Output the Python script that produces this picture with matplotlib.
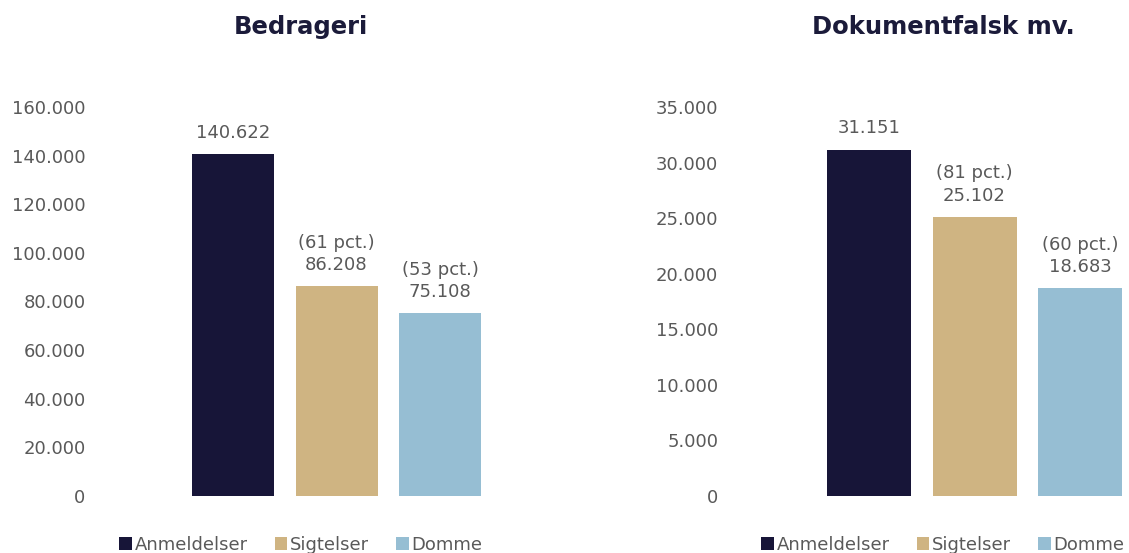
import matplotlib
matplotlib.use("Agg")
import matplotlib.pyplot as plt
from matplotlib.patches import Patch

plt.rcParams['font.family'] = ['DejaVu Sans']

series = ["Anmeldelser", "Sigtelser", "Domme"]
colors = ["#171538", "#CFB482", "#96BED3"]

title_left = "Bedrageri"
values_left = [140622, 86208, 75108]
pct_left = [None, 61, 53]
ticks_left = [0, 20000, 40000, 60000, 80000, 100000, 120000, 140000, 160000]

title_right = "Dokumentfalsk mv."
values_right = [31151, 25102, 18683]
pct_right = [None, 81, 60]
ticks_right = [0, 5000, 10000, 15000, 20000, 25000, 30000, 35000]

W, H = 1129, 553
fig = plt.figure(figsize=(W / 100, H / 100), dpi=100)
text_col = "#595959"
title_col = "#1B1B3A"


def fmt(v):
    return f"{v:,}".replace(",", ".")


def panel(px_left, px_right, x0_px, spacing_px, bar_px, values, pct, ticks, title, title_cx, pad):
    ax = fig.add_axes([px_left / W, (H - 496) / H, (px_right - px_left) / W, 389 / H])
    xs = list(range(len(values)))
    ax.bar(xs, values, width=bar_px / spacing_px, color=colors)
    ax.set_xlim(-(x0_px - px_left) / spacing_px, (px_right - x0_px) / spacing_px)
    ax.set_ylim(0, ticks[-1])
    ax.set_yticks(ticks)
    ax.set_yticklabels([fmt(t) for t in ticks], fontsize=13, color=text_col)
    ax.tick_params(axis='y', length=0, pad=pad)
    ax.set_xticks([])
    for s in ax.spines.values():
        s.set_visible(False)
    for x, v, p in zip(xs, values, pct):
        label = fmt(v) if p is None else f"({p} pct.)\n{fmt(v)}"
        ax.annotate(label, (x, v), xytext=(0, 9), textcoords='offset points',
                    ha='center', va='bottom', fontsize=13, color=text_col,
                    linespacing=1.3)
    fig.text(title_cx / W, (H - 27) / H, title, ha='center', va='center',
             fontsize=17.5, fontweight='bold', color=title_col)
    handles = [Patch(facecolor=c, edgecolor='none') for c in colors]
    fig.legend(handles, series, loc='center', bbox_to_anchor=(title_cx / W, (H - 545) / H),
               ncol=3, frameon=False, fontsize=13, labelcolor=text_col,
               handlelength=0.7, handleheight=0.7, handletextpad=0.15,
               columnspacing=1.5, borderpad=0, borderaxespad=0)
    return ax


panel(100, 500, 233, 103.5, 82, values_left, pct_left, ticks_left, title_left, 301, 10.5)
panel(730, 1129, 869, 105.5, 84, values_right, pct_right, ticks_right, title_right, 943, 8.5)

fig.savefig("out.png", dpi=100)
